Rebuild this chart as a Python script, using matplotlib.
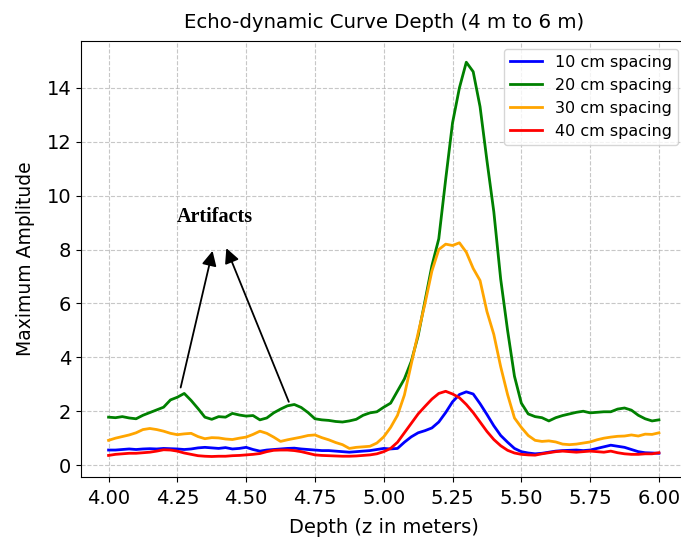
import numpy as np
import matplotlib
matplotlib.use("Agg")
import matplotlib.pyplot as plt

# depth samples (m)
depth = np.round(np.arange(4.0, 6.0001, 0.025), 3)

# 10 cm spacing
amp_10 = [0.56, 0.56, 0.58, 0.60, 0.58, 0.60, 0.61, 0.60, 0.62, 0.61,
          0.60, 0.58, 0.60, 0.64, 0.66, 0.64, 0.62, 0.65, 0.60, 0.62,
          0.66, 0.58, 0.52, 0.56, 0.58, 0.60, 0.62, 0.63, 0.60, 0.58,
          0.56, 0.54, 0.54, 0.52, 0.50, 0.48, 0.50, 0.52, 0.54, 0.58,
          0.62, 0.60, 0.62, 0.85, 1.05, 1.20, 1.28, 1.38, 1.60, 1.95,
          2.35, 2.62, 2.72, 2.64, 2.28, 1.88, 1.46, 1.10, 0.85, 0.62,
          0.50, 0.45, 0.42, 0.44, 0.48, 0.52, 0.54, 0.55, 0.56, 0.54,
          0.56, 0.62, 0.68, 0.74, 0.70, 0.66, 0.58, 0.50, 0.46, 0.45,
          0.44]

# 20 cm spacing
amp_20 = [1.78, 1.76, 1.80, 1.75, 1.72, 1.85, 1.95, 2.05, 2.15, 2.42,
          2.52, 2.66, 2.40, 2.10, 1.78, 1.70, 1.80, 1.78, 1.92, 1.86,
          1.82, 1.84, 1.68, 1.75, 1.94, 2.08, 2.20, 2.25, 2.14, 1.95,
          1.72, 1.68, 1.66, 1.62, 1.60, 1.64, 1.70, 1.85, 1.94, 1.98,
          2.15, 2.30, 2.75, 3.20, 3.85, 4.80, 6.10, 7.40, 8.40, 10.60,
          12.70, 14.00, 14.95, 14.60, 13.30, 11.30, 9.40, 6.90, 5.00, 3.30,
          2.30, 1.90, 1.80, 1.76, 1.64, 1.76, 1.84, 1.90, 1.96, 2.00,
          1.94, 1.96, 1.98, 1.98, 2.08, 2.12, 2.04, 1.85, 1.72, 1.64,
          1.68]

# 30 cm spacing
amp_30 = [0.92, 1.00, 1.06, 1.12, 1.20, 1.32, 1.36, 1.32, 1.26, 1.18,
          1.13, 1.16, 1.18, 1.06, 0.98, 1.02, 1.01, 0.97, 0.95, 1.00,
          1.04, 1.14, 1.26, 1.18, 1.04, 0.88, 0.94, 0.99, 1.04, 1.10,
          1.12, 1.02, 0.94, 0.84, 0.76, 0.62, 0.66, 0.68, 0.70, 0.82,
          1.05, 1.40, 1.85, 2.60, 3.75, 4.90, 6.00, 7.20, 8.00, 8.20,
          8.15, 8.25, 7.90, 7.30, 6.85, 5.70, 4.85, 3.65, 2.62, 1.75,
          1.40, 1.10, 0.92, 0.88, 0.90, 0.86, 0.78, 0.76, 0.78, 0.82,
          0.86, 0.94, 1.00, 1.04, 1.07, 1.08, 1.12, 1.08, 1.15, 1.14,
          1.20]

# 40 cm spacing
amp_40 = [0.36, 0.40, 0.42, 0.44, 0.44, 0.46, 0.48, 0.52, 0.57, 0.56,
          0.52, 0.45, 0.40, 0.35, 0.33, 0.32, 0.33, 0.33, 0.35, 0.36,
          0.38, 0.40, 0.43, 0.50, 0.55, 0.56, 0.56, 0.54, 0.50, 0.44,
          0.38, 0.36, 0.35, 0.34, 0.33, 0.33, 0.34, 0.36, 0.38, 0.42,
          0.50, 0.62, 0.85, 1.20, 1.55, 1.90, 2.18, 2.45, 2.66, 2.74,
          2.64, 2.50, 2.25, 1.95, 1.60, 1.25, 0.95, 0.72, 0.55, 0.45,
          0.40, 0.38, 0.37, 0.42, 0.46, 0.50, 0.52, 0.50, 0.48, 0.50,
          0.52, 0.50, 0.48, 0.52, 0.46, 0.42, 0.40, 0.40, 0.42, 0.42,
          0.46]

series_labels = ["10 cm spacing", "20 cm spacing", "30 cm spacing", "40 cm spacing"]
series_colors = ["blue", "green", "orange", "red"]

# annotation: (tail, head) in data coords
artifact_arrows = [((4.262, 2.88), (4.378, 7.95)),
                   ((4.655, 2.35), (4.428, 8.05))]

fig = plt.figure(figsize=(6.81, 5.38), dpi=100)
ax = fig.add_axes([0.119, 0.1134, 0.889, 0.811])

for amp, lab, col in zip([amp_10, amp_20, amp_30, amp_40], series_labels, series_colors):
    ax.plot(depth, amp, color=col, lw=2, label=lab)

# Artifacts label + arrows
ax.text(4.385, 9.2, "Artifacts", family="Liberation Serif", fontweight="bold",
        fontsize=14.5, ha="center", va="center")
for tail, head in artifact_arrows:
    ax.annotate("", xy=head, xytext=tail,
                arrowprops=dict(arrowstyle="-|>", color="black", lw=1.3,
                                mutation_scale=22, shrinkA=0, shrinkB=0))

ax.set_xlim(3.9, 6.1)
ax.set_ylim(-0.44, 15.75)
ax.set_xticks(np.arange(4.0, 6.01, 0.25))
ax.set_yticks(np.arange(0, 15, 2))
ax.tick_params(labelsize=14)
ax.tick_params(axis="x", pad=5)
ax.grid(True, linestyle="--", alpha=0.7)

ax.set_title("Echo-dynamic Curve Depth (4 m to 6 m)", fontsize=14.2, pad=9)
ax.set_xlabel("Depth (z in meters)", fontsize=14, labelpad=7)
ax.set_ylabel("Maximum Amplitude", fontsize=13.5, labelpad=8)
ax.legend(loc="upper right", fontsize=11.5)

fig.savefig("out.png", dpi=100)
